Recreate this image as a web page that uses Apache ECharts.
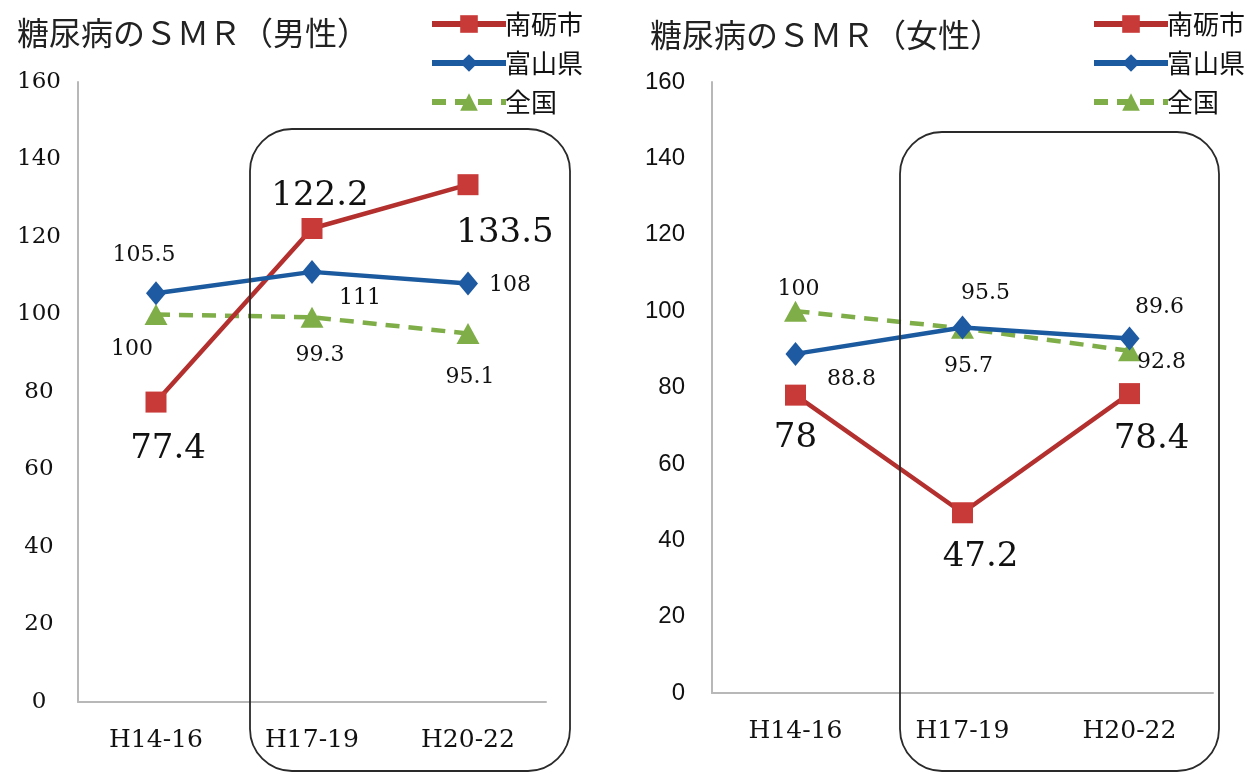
<!DOCTYPE html>
<html>
<head>
<meta charset="utf-8">
<script src="https://cdn.jsdelivr.net/npm/echarts@6/dist/echarts.min.js"></script>
<style>
  html, body { margin: 0; padding: 0; background: #fff; }
  #chart { width: 1250px; height: 774px; }
</style>
</head>
<body>
<div id="chart"></div>
<script>
// 期間区分
const periods = ['H14-16', 'H17-19', 'H20-22'];
const seriesNames = ['南砺市', '富山県', '全国'];

// 糖尿病SMR（男性）
const maleNanto = [77.4, 122.2, 133.5];
const maleToyama = [105.5, 111, 108];
const maleNational = [100, 99.3, 95.1];

// 糖尿病SMR（女性）
const femaleNanto = [78, 47.2, 78.4];
const femaleToyama = [88.8, 95.7, 92.8];
const femaleNational = [100, 95.5, 89.6];

// y軸目盛
const yMin = 0, yMax = 160, yStep = 20;

// 色・線種
const RED = '#b3302f', RED_MK = '#c83a38';
const BLUE = '#1b5a9e', BLUE_MK = '#1d5aa2';
const GREEN = '#7fae48';

const SERIF = 'DejaVu Serif';
const CJK = 'Noto Sans CJK JP';

// ラベル配置（点からのずれ, px）
const labelShift = {
  maleNanto: [[12, 47], [8, -32], [37, 48]],
  maleToyama: [[-12, -38], [48, 26], [42, 2]],
  maleNational: [[-24, 35], [8, 38], [2, 44]],
  femaleNanto: [[0, 43], [18, 44], [22, 46]],
  femaleToyama: [[56, 25], [6, 39], [32, 24]],
  femaleNational: [[3, -22], [23, -35], [30, -44]]
};

function pointsWithLabels(values, shifts, big) {
  return values.map((v, i) => ({
    value: v,
    label: {
      show: true,
      position: 'inside',
      offset: shifts[i],
      align: 'center',
      verticalAlign: 'middle',
      fontFamily: SERIF,
      fontSize: big ? 34 : 22,
      color: '#111'
    }
  }));
}

function lineSeries(name, values, shifts, gridIdx, kind) {
  const styles = {
    nanto: { color: RED, mk: RED_MK, symbol: 'rect', size: 21, type: 'solid' },
    toyama: { color: BLUE, mk: BLUE_MK, symbol: 'diamond', size: [20, 24], type: 'solid' },
    national: { color: GREEN, mk: GREEN, symbol: 'triangle', size: [23, 21], type: [14, 9] }
  }[kind];
  return {
    name: name,
    type: 'line',
    xAxisIndex: gridIdx,
    yAxisIndex: gridIdx,
    data: pointsWithLabels(values, shifts, kind === 'nanto'),
    symbol: styles.symbol,
    symbolSize: styles.size,
    showAllSymbol: true,
    lineStyle: { color: styles.color, width: 4.5, type: styles.type },
    itemStyle: { color: styles.mk, borderWidth: 0 },
    emphasis: { disabled: true },
    z: kind === 'nanto' ? 3 : (kind === 'toyama' ? 4 : 2),
    animation: false
  };
}

function yAxis(gridIdx, labelFont, align, margin, size) {
  return {
    type: 'value',
    gridIndex: gridIdx,
    min: yMin, max: yMax, interval: yStep,
    axisLine: { show: true, lineStyle: { color: '#b8b8b8', width: 2 } },
    axisTick: { show: false },
    splitLine: { show: false },
    axisLabel: { fontFamily: labelFont, fontSize: size, color: '#111', align: align, margin: margin }
  };
}

function xAxis(gridIdx, margin) {
  return {
    type: 'category',
    gridIndex: gridIdx,
    data: periods,
    boundaryGap: true,
    axisLine: { show: true, lineStyle: { color: '#b8b8b8', width: 2 } },
    axisTick: { show: false },
    splitLine: { show: false },
    axisLabel: { fontFamily: SERIF, fontSize: 25, color: '#111', margin: margin }
  };
}

function legend(left, names) {
  return {
    orient: 'vertical',
    left: left,
    top: 6,
    itemWidth: 74,
    itemHeight: 22,
    itemGap: 13,
    data: names,
    selectedMode: false,
    lineStyle: { width: 6 },
    textStyle: { fontFamily: CJK, fontSize: 26, color: '#111', padding: [0, 0, 0, -6] }
  };
}

const option = {
  backgroundColor: '#ffffff',
  animation: false,
  title: [
    { text: '糖尿病のＳＭＲ（男性）', left: 12, top: 12,
      textStyle: { fontFamily: CJK, fontSize: 32, fontWeight: 'normal', color: '#222' } },
    { text: '糖尿病のＳＭＲ（女性）', left: 645, top: 14,
      textStyle: { fontFamily: CJK, fontSize: 32, fontWeight: 'normal', color: '#222' } }
  ],
  legend: [
    legend(424, seriesNames),
    legend(1086, seriesNames.map(n => n + '\u200b'))
  ],
  grid: [
    { left: 78, top: 82, width: 468, height: 620 },
    { left: 712, top: 82, width: 501, height: 611 }
  ],
  xAxis: [xAxis(0, 26), xAxis(1, 26)],
  yAxis: [yAxis(0, SERIF, 'center', 39, 23), yAxis(1, 'Liberation Sans', 'right', 27, 24)],
  series: [
    lineSeries('南砺市', maleNanto, labelShift.maleNanto, 0, 'nanto'),
    lineSeries('富山県', maleToyama, labelShift.maleToyama, 0, 'toyama'),
    lineSeries('全国', maleNational, labelShift.maleNational, 0, 'national'),
    lineSeries('南砺市\u200b', femaleNanto, labelShift.femaleNanto, 1, 'nanto'),
    lineSeries('富山県\u200b', femaleToyama, labelShift.femaleToyama, 1, 'toyama'),
    lineSeries('全国\u200b', femaleNational, labelShift.femaleNational, 1, 'national')
  ],
  graphic: [
    // 直近2期間を囲む枠
    { type: 'rect', shape: { x: 250, y: 129, width: 320, height: 642, r: 42 },
      style: { fill: 'none', stroke: '#2a2a2a', lineWidth: 1.8 }, z: 10, silent: true },
    { type: 'rect', shape: { x: 900, y: 132, width: 319, height: 639, r: 42 },
      style: { fill: 'none', stroke: '#2a2a2a', lineWidth: 1.8 }, z: 10, silent: true }
  ]
};

const chart = echarts.init(document.getElementById('chart'), null, { renderer: 'canvas' });
chart.setOption(option);
</script>
</body>
</html>
